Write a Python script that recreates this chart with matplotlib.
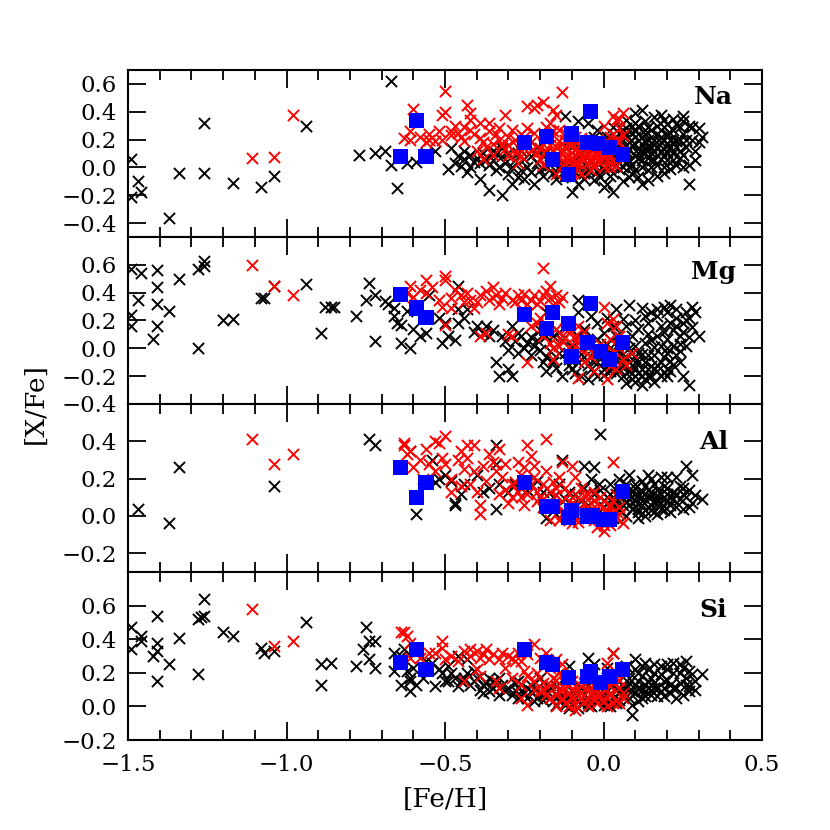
import matplotlib.pyplot as plt
import numpy as np
from matplotlib.ticker import MultipleLocator

plt.rcParams['font.family'] = ['DejaVu Serif']
plt.rcParams['axes.unicode_minus'] = True

# ---- [Na/Fe] vs [Fe/H] ----
na_black = [
    (-1.49, 0.06), (-1.47, -0.10), (-1.46, -0.18), (-1.49, -0.21), (-1.37, -0.36), (-1.34, -0.04),
    (-1.26, 0.32), (-1.26, -0.04), (-1.17, -0.11), (-1.08, -0.14), (-1.04, -0.06), (-0.94, 0.30),
    (-0.77, 0.09), (-0.67, 0.62), (-0.72, 0.10),
    (-0.69, 0.12), (-0.67, 0.02), (-0.65, -0.15), (-0.62, 0.03), (-0.59, 0.04), (-0.49, -0.01),
    (-0.48, 0.14), (-0.45, 0.01), (-0.43, -0.03), (-0.39, -0.08), (-0.36, -0.16), (-0.32, -0.20),
    (-0.56, 0.10), (-0.53, 0.12), (-0.46, 0.08), (-0.44, 0.12), (-0.41, 0.04), (-0.38, 0.10),
    (-0.36, 0.02), (-0.33, 0.00),
    (-0.12, 0.37), (-0.08, 0.33), (0.10, 0.39), (0.12, 0.41), (0.22, 0.35), (0.25, 0.37),
    (0.28, 0.29), (0.31, 0.22), (0.27, 0.02), (0.27, -0.12), (0.25, 0.09), (0.24, 0.20),
    (0.21, 0.15), (0.19, 0.29), (0.17, 0.24), (0.14, 0.29), (0.12, 0.22), (0.10, 0.17),
    (0.13, 0.10), (0.16, 0.05), (0.18, 0.12), (0.20, 0.17), (0.22, 0.10), (0.19, 0.00),
    (0.14, -0.02), (0.12, -0.12), (0.10, -0.02), (0.08, 0.05), (0.06, 0.00), (0.03, -0.04),
    (0.03, -0.18), (0.01, -0.12), (-0.01, -0.07), (-0.03, -0.09), (-0.05, -0.02), (-0.07, 0.00),
    (-0.10, -0.18), (-0.11, 0.01), (-0.13, 0.03), (-0.16, -0.04), (-0.18, 0.00), (-0.21, 0.03),
    (-0.22, -0.12), (-0.24, 0.00), (-0.26, -0.02), (-0.28, 0.05), (-0.30, 0.10), (-0.32, 0.08),
    (-0.34, 0.10), (-0.37, 0.05), (-0.39, 0.03), (-0.34, -0.02), (-0.27, -0.07), (-0.15, 0.05),
    (-0.05, 0.32), (-0.02, 0.27), (0.01, 0.22), (0.03, 0.29), (0.07, 0.34), (0.16, 0.36),
    (0.19, 0.34), (0.03, 0.12), (0.05, 0.15), (0.07, 0.12), (0.10, 0.08), (0.12, 0.05),
    (0.14, 0.15), (0.16, 0.20), (0.18, 0.22), (0.20, 0.24), (0.22, 0.27), (0.24, 0.29),
    (-0.21, 0.15), (-0.23, 0.08), (-0.07, 0.10), (-0.09, 0.17), (-0.11, 0.20),
    (0.00, 0.05), (0.02, 0.08), (0.04, 0.02), (0.06, 0.20), (0.08, 0.18), (0.09, 0.25),
    (0.11, 0.13), (0.13, 0.18), (0.15, 0.10), (0.17, 0.15), (0.19, 0.08), (0.21, 0.20),
    (0.23, 0.15), (0.15, 0.27), (0.11, 0.30), (0.05, 0.25), (0.00, 0.16), (-0.03, 0.02),
    (-0.08, 0.07), (0.08, -0.07), (0.17, -0.06),
    (-0.44, 0.06), (-0.42, 0.09), (-0.40, 0.07), (-0.35, 0.05), (-0.31, 0.03), (-0.29, 0.00),
    (-0.27, 0.10), (-0.25, 0.06), (-0.23, -0.03), (-0.20, -0.02), (-0.19, 0.08), (-0.17, 0.02),
    (-0.14, -0.01), (-0.12, -0.06), (-0.09, -0.03), (-0.06, -0.08), (-0.04, 0.04), (-0.02, -0.03),
    (0.00, -0.02), (0.01, 0.01), (0.02, 0.11), (0.04, 0.07), (0.05, -0.01), (0.06, 0.10),
    (0.07, 0.04), (0.08, 0.13), (0.09, 0.02), (0.10, 0.22), (0.11, 0.07), (0.12, 0.17),
    (0.13, 0.24), (0.14, 0.07), (0.15, 0.15), (0.16, 0.11), (0.17, 0.02), (0.18, 0.18),
    (0.19, 0.13), (0.20, 0.05), (0.21, 0.25), (0.22, 0.05), (0.23, 0.19), (0.24, 0.12),
    (0.25, 0.24), (0.26, 0.15), (0.28, 0.20), (0.29, 0.12), (0.30, 0.18), (0.27, 0.30),
    (0.25, 0.33), (0.23, 0.31), (0.20, 0.31), (0.17, 0.30), (0.13, 0.33), (0.09, 0.30),
    (0.06, 0.27), (0.04, 0.18), (0.01, 0.17), (-0.01, 0.20), (-0.04, 0.13), (-0.03, 0.22),
    (0.07, 0.23), (0.10, 0.26), (0.14, 0.20), (0.18, 0.27), (0.11, -0.07), (0.14, -0.09),
    (0.06, -0.10), (0.09, -0.05), (0.00, -0.14), (-0.08, -0.12), (0.19, -0.04), (0.21, -0.01),
    (0.23, 0.02), (0.25, 0.00), (0.15, 0.00), (0.12, 0.00), (0.03, 0.03), (-0.10, 0.04),
    (-0.18, 0.11), (-0.26, 0.12), (-0.32, 0.14), (-0.35, 0.12), (-0.42, 0.00), (-0.47, 0.03),
    (0.05, 0.12), (0.07, 0.09), (0.09, 0.16), (0.11, 0.10), (0.13, 0.13), (0.15, 0.05),
    (0.16, 0.16), (0.18, 0.06), (0.19, 0.20), (0.20, 0.11), (0.22, 0.18), (0.24, 0.07),
    (0.26, 0.20), (0.13, 0.27), (0.10, 0.32), (0.07, 0.28), (0.04, 0.05), (0.08, 0.00),
    (0.02, -0.06), (-0.02, 0.10), (-0.06, -0.04), (-0.10, -0.07), (-0.15, -0.08), (-0.19, -0.06),
    (-0.25, -0.08), (-0.30, -0.05), (-0.29, -0.12), (0.18, 0.38), (0.29, 0.05), (0.30, 0.28),
]
na_red = [
    (-1.11, 0.065), (-1.04, 0.075), (-0.98, 0.38),
    (-0.50, 0.55), (-0.13, 0.54), (-0.60, 0.42), (-0.51, 0.38), (-0.50, 0.40), (-0.43, 0.45),
    (-0.42, 0.39), (-0.42, 0.34), (-0.39, 0.32), (-0.36, 0.32), (-0.31, 0.38), (-0.24, 0.44),
    (-0.22, 0.43), (-0.21, 0.45), (-0.19, 0.47), (-0.16, 0.41), (-0.15, 0.38), (-0.63, 0.21),
    (-0.61, 0.20), (-0.61, 0.26), (-0.56, 0.18), (-0.55, 0.20), (-0.52, 0.26), (-0.51, 0.20),
    (-0.48, 0.26), (-0.48, 0.23), (-0.45, 0.22), (-0.44, 0.29), (-0.41, 0.24), (-0.39, 0.21),
    (-0.40, 0.12), (-0.38, 0.06), (-0.37, 0.15), (-0.35, 0.17), (-0.33, 0.20), (-0.30, 0.22),
    (-0.29, 0.27), (-0.27, 0.15), (-0.26, 0.08), (-0.30, 0.08), (-0.34, 0.24), (-0.36, 0.26),
    (-0.20, 0.06), (-0.18, 0.29), (-0.17, 0.32), (-0.16, 0.12), (-0.13, 0.17), (-0.12, 0.14),
    (-0.11, 0.05), (-0.10, 0.10), (-0.09, 0.08), (-0.08, 0.03), (-0.07, 0.15), (-0.06, 0.05),
    (-0.05, 0.10), (-0.04, -0.02), (-0.03, 0.08), (-0.02, 0.05), (-0.01, 0.12), (0.00, 0.00),
    (0.01, 0.05), (0.02, 0.17), (0.03, 0.24), (0.04, 0.34), (0.05, 0.35), (0.06, 0.39),
    (0.04, 0.20), (0.05, 0.08), (0.02, 0.00), (-0.07, -0.05), (-0.15, -0.05), (-0.12, 0.25),
    (-0.09, 0.22), (-0.14, 0.08), (-0.11, 0.00), (-0.06, 0.18),
    (-0.33, 0.28), (-0.31, 0.13), (-0.28, 0.20), (-0.25, 0.22), (-0.23, 0.18), (-0.22, 0.25),
    (-0.21, 0.10), (-0.19, 0.17), (-0.18, 0.12), (-0.17, 0.22), (-0.15, 0.15), (-0.14, 0.27),
    (-0.13, 0.02), (-0.12, 0.07), (-0.10, 0.17), (-0.09, 0.13), (-0.08, 0.19), (-0.07, 0.07),
    (-0.06, 0.12), (-0.05, 0.03), (-0.04, 0.15), (-0.03, 0.01), (-0.02, 0.11), (-0.01, 0.03),
    (0.00, 0.08), (0.01, 0.13), (0.02, 0.22), (0.03, 0.06), (0.04, 0.12), (0.05, 0.28),
    (0.06, 0.23), (0.03, 0.37), (0.00, 0.30), (-0.02, 0.20), (-0.08, -0.02), (-0.10, -0.03),
    (-0.13, 0.11), (-0.17, 0.07), (-0.24, 0.28), (-0.26, 0.24), (-0.28, 0.10), (-0.32, 0.16),
    (-0.44, 0.19), (-0.46, 0.25), (-0.53, 0.19), (-0.58, 0.22),
    (-0.20, 0.14), (-0.19, 0.02), (-0.17, 0.16), (-0.16, 0.26), (-0.15, 0.09), (-0.14, 0.19),
    (-0.13, 0.13), (-0.12, 0.20), (-0.11, 0.16), (-0.10, 0.07), (-0.09, 0.03), (-0.08, 0.11),
    (-0.07, 0.21), (-0.06, 0.09), (-0.05, 0.16), (-0.04, 0.06), (-0.03, 0.14), (-0.02, 0.08),
    (-0.01, 0.18), (0.00, 0.12), (0.01, 0.09), (0.02, 0.03), (0.03, 0.15), (0.04, 0.01),
    (0.05, 0.18), (-0.23, 0.12), (-0.25, 0.14), (-0.27, 0.03), (-0.30, 0.16), (-0.35, 0.09),
    (-0.38, 0.18), (-0.42, 0.27), (-0.47, 0.30), (-0.55, 0.24),
]
na_blue = [
    (-0.64, 0.08), (-0.59, 0.34), (-0.56, 0.08), (-0.25, 0.18), (-0.18, 0.22), (-0.16, 0.06),
    (-0.11, -0.05), (-0.10, 0.24), (-0.04, 0.40), (-0.05, 0.18), (-0.015, 0.17), (0.02, 0.14),
    (0.06, 0.09),
]

# ---- [Mg/Fe] vs [Fe/H] ----
mg_black = [
    (-1.49, 0.57), (-1.46, 0.54), (-1.49, 0.24), (-1.49, 0.16), (-1.47, 0.35), (-1.41, 0.56),
    (-1.41, 0.44), (-1.41, 0.32), (-1.41, 0.16), (-1.42, 0.07), (-1.37, 0.27), (-1.34, 0.50),
    (-1.28, 0.57), (-1.26, 0.63), (-1.26, 0.59), (-1.28, 0.00), (-1.20, 0.20), (-1.17, 0.21),
    (-1.08, 0.36), (-1.07, 0.36), (-1.04, 0.45), (-0.94, 0.46),
    (-0.88, 0.30), (-0.86, 0.30), (-0.89, 0.11), (-0.78, 0.23), (-0.85, 0.30), (-0.74, 0.47),
    (-0.75, 0.35), (-0.72, 0.38), (-0.72, 0.05), (-0.69, 0.34),
    (-0.68, 0.32), (-0.66, 0.29), (-0.66, 0.23), (-0.65, 0.18), (-0.64, 0.17), (-0.64, 0.04),
    (-0.61, 0.00), (-0.58, 0.09), (-0.56, 0.11), (-0.55, 0.38), (-0.46, 0.45), (-0.50, 0.18),
    (-0.49, 0.09), (-0.51, 0.04), (-0.47, 0.06), (-0.46, 0.18), (-0.46, 0.28), (-0.43, 0.28),
    (-0.40, 0.16), (-0.38, 0.11), (-0.36, 0.09), (-0.37, 0.16), (-0.34, -0.10), (-0.33, -0.20),
    (-0.30, -0.15), (-0.29, -0.20), (-0.32, 0.09), (-0.30, -0.01), (-0.29, 0.16), (-0.27, 0.11),
    (-0.26, 0.09), (-0.24, 0.04), (-0.22, 0.02), (-0.20, -0.01), (-0.18, -0.06), (-0.18, -0.16),
    (-0.16, -0.10), (-0.14, -0.03), (-0.13, -0.20), (-0.10, -0.15), (-0.08, -0.10), (-0.06, -0.06),
    (-0.04, -0.15), (-0.02, -0.20), (0.00, -0.15), (0.02, -0.10), (0.04, -0.18), (0.06, -0.20),
    (0.09, -0.22), (0.11, -0.18), (0.12, -0.26), (0.14, -0.20), (0.15, -0.13), (0.16, -0.15),
    (0.18, -0.10), (0.20, -0.03), (0.22, 0.02), (0.24, 0.09), (0.25, 0.18), (0.28, 0.30),
    (0.29, 0.26), (0.30, 0.09), (0.26, 0.02), (0.25, -0.20), (0.27, -0.26), (0.20, -0.15),
    (0.18, 0.02), (0.17, 0.09), (0.14, 0.18), (0.13, 0.23), (0.11, 0.14), (0.09, 0.09),
    (0.06, 0.21), (0.04, 0.28), (0.08, 0.31), (0.19, 0.30), (0.20, 0.26), (0.21, 0.18),
    (0.17, 0.23), (0.15, 0.26), (0.13, 0.04), (0.11, -0.03), (0.09, -0.08), (0.06, 0.02),
    (0.04, 0.09), (0.02, 0.00), (0.00, 0.11), (-0.02, 0.18), (-0.04, 0.23), (-0.06, 0.14),
    (-0.08, 0.09), (-0.08, 0.35), (-0.13, 0.06), (-0.16, 0.09), (-0.18, 0.09), (-0.08, 0.26),
    (-0.18, 0.26), (0.03, -0.05), (0.07, -0.12), (0.10, -0.14), (0.13, -0.10), (0.16, -0.05),
    (0.19, -0.17), (0.22, -0.12), (0.05, -0.15), (0.01, -0.05), (-0.03, -0.10), (-0.07, -0.20),
    (-0.11, -0.08), (0.10, 0.02), (0.14, 0.10), (0.18, 0.16), (0.23, 0.22), (0.26, 0.26),
    (-0.28, 0.05), (-0.25, 0.00), (-0.23, -0.05), (-0.21, 0.06), (-0.19, -0.10), (-0.17, -0.02),
    (-0.15, -0.14), (-0.12, -0.03), (-0.11, -0.12), (-0.09, -0.18), (-0.07, -0.04), (-0.05, -0.12),
    (-0.03, -0.02), (-0.01, -0.08), (0.00, -0.19), (0.01, 0.03), (0.03, -0.13), (0.05, -0.03),
    (0.06, -0.10), (0.08, -0.16), (0.08, 0.00), (0.10, -0.06), (0.12, -0.15), (0.13, -0.22),
    (0.14, -0.05), (0.15, -0.20), (0.16, 0.01), (0.17, -0.12), (0.18, -0.20), (0.19, -0.06),
    (0.20, 0.07), (0.21, -0.09), (0.22, 0.13), (0.23, -0.05), (0.24, 0.03), (0.25, 0.12),
    (0.26, 0.20), (0.27, 0.08), (0.28, 0.15), (0.23, 0.28), (0.21, 0.31), (0.17, 0.28),
    (0.12, 0.29), (0.10, 0.20), (0.07, 0.16), (0.03, 0.16), (0.01, 0.22), (-0.02, 0.07),
    (-0.05, 0.02), (-0.10, 0.01), (-0.14, 0.12), (-0.20, 0.13), (-0.23, 0.08), (-0.27, -0.03),
    (-0.31, 0.05), (-0.35, 0.13), (-0.41, 0.12), (-0.44, 0.22), (-0.52, 0.22), (-0.60, 0.14),
    (-0.62, 0.27), (-0.05, -0.22), (0.07, -0.25), (0.10, -0.24), (0.16, -0.24), (0.20, -0.20),
    (0.02, -0.16), (0.04, -0.08), (0.07, -0.06), (0.09, -0.12), (0.11, -0.10), (0.12, -0.04),
    (0.14, -0.15), (0.17, -0.16), (0.21, -0.16), (0.24, -0.10), (0.12, -0.20), (0.09, -0.18),
    (0.06, -0.14), (-0.01, -0.12), (0.15, 0.06), (0.19, 0.12), (0.23, 0.16), (0.27, 0.22),
    (0.24, -0.02), (0.20, 0.00),
]
mg_red = [
    (-1.11, 0.60), (-1.04, 0.45), (-0.98, 0.38),
    (-0.19, 0.58), (-0.17, 0.45), (-0.50, 0.52), (-0.50, 0.49), (-0.56, 0.49), (-0.56, 0.40),
    (-0.61, 0.45), (-0.62, 0.40), (-0.52, 0.35), (-0.51, 0.30), (-0.48, 0.36), (-0.48, 0.29),
    (-0.43, 0.40), (-0.42, 0.35), (-0.41, 0.29), (-0.40, 0.33), (-0.39, 0.38), (-0.35, 0.44),
    (-0.34, 0.38), (-0.32, 0.36), (-0.29, 0.35), (-0.27, 0.38), (-0.25, 0.39), (-0.23, 0.35),
    (-0.21, 0.32), (-0.19, 0.38), (-0.17, 0.36), (-0.15, 0.38), (-0.14, 0.33), (-0.50, 0.17),
    (-0.39, 0.09), (-0.37, 0.11), (-0.30, 0.10), (-0.29, 0.09), (-0.24, -0.10), (-0.23, 0.16),
    (-0.21, 0.18), (-0.19, 0.09), (-0.17, 0.04), (-0.16, -0.08), (-0.14, 0.02), (-0.13, 0.09),
    (-0.12, 0.14), (-0.09, 0.09), (-0.08, 0.04), (-0.07, -0.01), (-0.06, -0.10), (-0.04, -0.06),
    (-0.02, -0.01), (0.00, -0.03), (0.02, -0.13), (0.04, -0.15), (0.01, -0.22), (-0.08, -0.21),
    (0.00, 0.30), (0.03, 0.21), (0.04, 0.16), (0.05, 0.09), (0.06, -0.08), (0.09, -0.03),
    (-0.10, -0.02),
    (-0.60, 0.37), (-0.58, 0.42), (-0.54, 0.44), (-0.47, 0.42), (-0.45, 0.38), (-0.44, 0.33),
    (-0.37, 0.41), (-0.36, 0.35), (-0.33, 0.32), (-0.31, 0.40), (-0.28, 0.33), (-0.26, 0.35),
    (-0.24, 0.32), (-0.22, 0.38), (-0.20, 0.34), (-0.18, 0.41), (-0.16, 0.31), (-0.13, 0.37),
    (-0.20, 0.22), (-0.18, 0.12), (-0.15, 0.14), (-0.13, 0.05), (-0.11, 0.11), (-0.10, 0.03),
    (-0.07, 0.07), (-0.06, 0.12), (-0.05, 0.00), (-0.03, -0.03), (-0.01, 0.03), (0.01, -0.06),
    (0.02, 0.07), (0.03, -0.02), (0.05, 0.00), (0.07, -0.12), (-0.03, -0.16), (-0.11, -0.06),
    (-0.16, 0.00), (-0.08, 0.16), (0.01, 0.18),
]
mg_blue = [
    (-0.64, 0.39), (-0.59, 0.29), (-0.56, 0.22), (-0.25, 0.24), (-0.16, 0.26), (-0.18, 0.14),
    (-0.11, 0.18), (-0.04, 0.32), (-0.05, 0.04), (-0.10, -0.06), (-0.01, -0.02), (0.02, -0.08),
    (0.06, 0.04),
]

# ---- [Al/Fe] vs [Fe/H] ----
al_black = [
    (-1.47, 0.04), (-1.37, -0.04), (-1.34, 0.26), (-1.04, 0.16), (-0.74, 0.41), (-0.72, 0.38),
    (-0.59, 0.01), (-0.53, 0.18), (-0.47, 0.06),
    (-0.01, 0.44), (-0.61, 0.35), (-0.54, 0.30), (-0.52, 0.20), (-0.47, 0.07), (-0.48, 0.19),
    (-0.40, 0.22), (-0.34, 0.38), (-0.34, 0.28), (-0.34, 0.04), (-0.36, 0.15), (-0.38, 0.13),
    (-0.33, 0.17), (-0.26, 0.15), (-0.19, 0.13), (-0.18, -0.01), (-0.13, 0.30), (-0.11, 0.13),
    (-0.09, 0.12), (-0.06, 0.27), (-0.03, 0.26), (-0.04, 0.20), (-0.015, 0.17), (0.02, 0.17),
    (0.05, 0.20), (0.08, 0.22), (0.10, 0.17), (0.12, 0.13), (0.14, 0.22), (0.16, 0.17),
    (0.18, 0.21), (0.20, 0.21), (0.23, 0.21), (0.26, 0.27), (0.28, 0.22), (0.25, 0.15),
    (0.28, 0.07), (0.31, 0.09), (0.25, 0.04), (0.23, 0.12), (0.21, 0.06), (0.19, 0.03),
    (0.17, 0.01), (0.15, 0.06), (0.13, 0.03), (0.11, -0.01), (0.09, 0.04), (0.09, 0.10),
    (0.10, 0.08), (0.12, 0.06), (0.14, 0.10), (0.16, 0.08), (0.18, 0.12), (0.20, 0.08),
    (0.22, 0.13), (0.09, 0.13), (0.05, 0.03), (0.01, 0.10), (-0.15, 0.01), (-0.10, 0.06),
    (-0.07, 0.08), (-0.05, 0.06), (-0.02, 0.01), (0.07, 0.00), (0.11, 0.02), (0.15, 0.03),
    (0.19, 0.10), (0.24, 0.09), (0.17, 0.14), (0.13, 0.16), (0.07, 0.08), (0.03, 0.05),
    (0.00, 0.05), (0.02, 0.12), (0.04, 0.08), (0.06, 0.14), (0.08, 0.06), (0.10, 0.12),
    (0.11, 0.04), (0.12, 0.10), (0.13, 0.00), (0.14, 0.14), (0.15, 0.10), (0.16, 0.02),
    (0.17, 0.08), (0.18, 0.04), (0.19, 0.16), (0.20, 0.12), (0.21, 0.02), (0.22, 0.09),
    (0.23, 0.05), (0.24, 0.16), (0.26, 0.10), (0.27, 0.14), (0.29, 0.11), (0.27, 0.05),
    (0.12, 0.19), (0.15, 0.20), (0.10, 0.15), (0.07, 0.17), (0.04, 0.12), (-0.03, 0.12),
    (-0.06, 0.15), (-0.08, 0.04), (-0.12, 0.09), (-0.14, 0.17), (-0.16, 0.10), (-0.21, 0.19),
    (-0.24, 0.14), (-0.28, 0.17), (-0.30, 0.13), (-0.44, 0.17), (-0.45, 0.12), (-0.50, 0.22),
    (0.03, -0.01), (0.06, 0.06), (0.08, 0.12), (-0.01, 0.14),
    (0.01, 0.07), (0.05, 0.10), (0.08, 0.09), (0.12, 0.08), (0.14, 0.05), (0.17, 0.11),
    (0.20, 0.15), (0.21, 0.10), (0.25, 0.12), (0.18, 0.07), (0.15, 0.13), (0.11, 0.11),
]
al_red = [
    (-1.11, 0.41), (-1.04, 0.28), (-0.98, 0.33), (-0.63, 0.39), (-0.57, 0.20),
    (-0.63, 0.38), (-0.61, 0.35), (-0.60, 0.26), (-0.56, 0.36), (-0.53, 0.40), (-0.52, 0.39),
    (-0.50, 0.43), (-0.51, 0.31), (-0.50, 0.28), (-0.48, 0.20), (-0.48, 0.13), (-0.45, 0.16),
    (-0.43, 0.38), (-0.41, 0.38), (-0.43, 0.31), (-0.41, 0.24), (-0.42, 0.17), (-0.39, 0.06),
    (-0.39, 0.01), (-0.40, 0.13), (-0.36, 0.33), (-0.34, 0.24), (-0.33, 0.36), (-0.31, 0.28),
    (-0.30, 0.07), (-0.29, 0.17), (-0.27, 0.29), (-0.26, 0.22), (-0.24, 0.38), (-0.23, 0.32),
    (-0.22, 0.27), (-0.18, 0.41), (-0.23, 0.17), (-0.21, 0.13), (-0.19, 0.17), (-0.17, 0.13),
    (-0.17, -0.02), (-0.14, 0.21), (-0.13, 0.29), (-0.10, 0.27), (-0.09, 0.21), (-0.07, 0.15),
    (-0.05, 0.12), (-0.03, 0.08), (-0.01, 0.06), (-0.02, -0.06), (0.00, -0.08), (0.01, 0.03),
    (0.03, 0.29), (0.03, 0.08), (0.05, 0.01), (0.06, -0.04), (-0.09, 0.01), (-0.07, 0.04),
    (-0.05, -0.01), (-0.11, 0.08), (-0.15, 0.06), (-0.24, 0.12), (-0.27, 0.13), (-0.37, 0.19),
    (-0.45, 0.35),
    (-0.62, 0.33), (-0.58, 0.30), (-0.55, 0.28), (-0.53, 0.24), (-0.46, 0.30), (-0.44, 0.25),
    (-0.38, 0.27), (-0.35, 0.29), (-0.32, 0.21), (-0.31, 0.14), (-0.28, 0.18), (-0.26, 0.10),
    (-0.25, 0.26), (-0.22, 0.21), (-0.20, 0.10), (-0.18, 0.24), (-0.16, 0.18), (-0.15, 0.11),
    (-0.13, 0.08), (-0.12, 0.15), (-0.10, 0.04), (-0.08, 0.10), (-0.06, 0.07), (-0.04, 0.03),
    (-0.03, 0.13), (-0.02, 0.02), (0.00, 0.08), (0.01, -0.03), (0.02, 0.06), (0.04, 0.11),
    (0.05, 0.05), (-0.08, -0.03), (-0.12, 0.02), (-0.19, 0.05), (-0.14, -0.02), (0.00, -0.05),
    (0.04, -0.01),
    (-0.19, 0.09), (-0.17, 0.06), (-0.15, 0.15), (-0.13, 0.01), (-0.11, 0.12), (-0.09, 0.06),
    (-0.07, 0.00), (-0.06, 0.11), (-0.04, 0.07), (-0.03, -0.02), (-0.01, 0.10), (0.01, 0.01),
    (0.02, -0.05), (0.03, 0.02), (-0.10, -0.04), (-0.21, 0.08), (-0.25, 0.06), (-0.29, 0.10),
    (-0.33, 0.12),
]
al_blue = [
    (-0.64, 0.26), (-0.56, 0.18), (-0.59, 0.10), (-0.25, 0.18), (-0.18, 0.05), (-0.16, 0.05),
    (-0.11, -0.01), (-0.10, 0.03), (-0.05, 0.00), (-0.035, 0.00), (0.00, -0.02), (0.02, -0.02),
    (0.06, 0.13),
]

# ---- [Si/Fe] vs [Fe/H] ----
si_black = [
    (-1.49, 0.47), (-1.46, 0.42), (-1.49, 0.34), (-1.46, 0.39), (-1.42, 0.30), (-1.41, 0.33),
    (-1.41, 0.38), (-1.41, 0.54), (-1.41, 0.15), (-1.37, 0.25), (-1.34, 0.41), (-1.28, 0.52),
    (-1.27, 0.53), (-1.26, 0.64), (-1.26, 0.54), (-1.28, 0.19), (-1.20, 0.44), (-1.17, 0.42),
    (-1.08, 0.35), (-1.07, 0.32), (-1.04, 0.33), (-0.94, 0.50), (-0.89, 0.25), (-0.86, 0.26),
    (-0.89, 0.13), (-0.78, 0.24), (-0.75, 0.47), (-0.74, 0.39), (-0.72, 0.39), (-0.76, 0.34),
    (-0.74, 0.28), (-0.72, 0.23), (-0.66, 0.21), (-0.64, 0.13), (-0.61, 0.09), (-0.61, 0.15),
    (-0.66, 0.32), (-0.64, 0.30),
    (-0.63, 0.34), (-0.61, 0.17), (-0.59, 0.13), (-0.57, 0.17), (-0.54, 0.26), (-0.51, 0.20),
    (-0.50, 0.15), (-0.48, 0.20), (-0.47, 0.17), (-0.45, 0.15), (-0.46, 0.30), (-0.43, 0.20),
    (-0.40, 0.17), (-0.38, 0.13), (-0.38, 0.08), (-0.36, 0.17), (-0.34, 0.13), (-0.31, 0.09),
    (-0.29, 0.07), (-0.26, 0.09), (-0.24, 0.11), (-0.21, 0.11), (-0.19, 0.07), (-0.17, 0.05),
    (-0.14, 0.03), (-0.11, 0.05), (-0.09, 0.05), (-0.07, 0.02), (-0.05, 0.02), (-0.02, 0.03),
    (0.00, 0.01), (0.02, 0.00), (0.04, 0.02), (0.09, -0.05), (-0.05, 0.29), (0.03, 0.32),
    (0.01, 0.23), (-0.03, 0.25), (-0.11, 0.24), (0.10, 0.22), (0.12, 0.24), (0.14, 0.22),
    (0.16, 0.20), (0.18, 0.24), (0.20, 0.22), (0.22, 0.26), (0.26, 0.27), (0.24, 0.20),
    (0.26, 0.17), (0.29, 0.15), (0.31, 0.19), (0.25, 0.07), (0.27, 0.09), (0.23, 0.11),
    (0.21, 0.13), (0.19, 0.15), (0.17, 0.11), (0.15, 0.07), (0.13, 0.13), (0.11, 0.15),
    (0.09, 0.09), (0.12, 0.05), (0.14, 0.11), (0.10, 0.13), (0.12, 0.18), (0.15, 0.17),
    (0.18, 0.09), (0.09, 0.01), (0.06, 0.07), (0.05, 0.15), (-0.01, 0.11), (-0.05, 0.13),
    (-0.07, 0.11), (-0.17, 0.11), (-0.20, 0.17), (-0.27, 0.15), (-0.33, 0.17), (-0.36, 0.09),
    (-0.24, 0.05), (-0.21, 0.05), (-0.15, 0.01), (-0.11, -0.01), (-0.08, -0.01), (0.03, 0.05),
    (0.01, 0.09), (0.10, 0.28), (0.13, 0.26), (-0.43, 0.28), (-0.49, 0.24),
    (-0.52, 0.22), (-0.49, 0.15), (-0.46, 0.12), (-0.44, 0.17), (-0.42, 0.13), (-0.41, 0.21),
    (-0.39, 0.10), (-0.37, 0.14), (-0.35, 0.11), (-0.33, 0.07), (-0.32, 0.13), (-0.30, 0.11),
    (-0.28, 0.14), (-0.27, 0.05), (-0.25, 0.08), (-0.23, 0.13), (-0.22, 0.03), (-0.20, 0.08),
    (-0.18, 0.10), (-0.16, 0.03), (-0.15, 0.12), (-0.13, 0.07), (-0.12, 0.01), (-0.10, 0.09),
    (-0.08, 0.03), (-0.06, 0.07), (-0.04, 0.00), (-0.03, 0.08), (-0.01, 0.05), (0.01, 0.02),
    (0.02, 0.07), (0.04, 0.10), (0.05, 0.04), (0.07, 0.11), (0.08, 0.05), (0.10, 0.08),
    (0.11, 0.03), (0.12, 0.10), (0.13, 0.06), (0.14, 0.15), (0.15, 0.10), (0.16, 0.14),
    (0.17, 0.06), (0.18, 0.19), (0.19, 0.11), (0.20, 0.16), (0.21, 0.08), (0.22, 0.20),
    (0.24, 0.14), (0.25, 0.23), (0.27, 0.12), (0.28, 0.19), (0.29, 0.10), (0.23, 0.05),
    (0.06, 0.12), (0.03, 0.13), (0.08, 0.17), (0.11, 0.20), (0.16, 0.25), (0.07, 0.24),
    (-0.56, 0.27), (-0.60, 0.23), (-0.62, 0.21), (-0.53, 0.12),
    (-0.05, 0.05), (-0.10, 0.02), (-0.13, 0.04), (0.00, 0.06), (0.05, 0.08), (0.08, 0.14),
    (0.11, 0.11), (0.13, 0.09), (0.16, 0.11), (0.19, 0.06), (0.22, 0.11), (0.26, 0.13),
    (0.20, 0.25), (0.24, 0.25), (0.27, 0.21), (-0.19, 0.04), (-0.23, 0.09), (-0.28, 0.10),
    (-0.35, 0.15), (-0.41, 0.15),
]
si_red = [
    (-1.11, 0.58), (-1.04, 0.36), (-0.98, 0.39), (-0.64, 0.44),
    (-0.63, 0.44), (-0.61, 0.29), (-0.53, 0.32), (-0.51, 0.39), (-0.50, 0.28), (-0.48, 0.30),
    (-0.44, 0.15), (-0.42, 0.34), (-0.40, 0.33), (-0.39, 0.29), (-0.37, 0.34), (-0.39, 0.18),
    (-0.35, 0.31), (-0.33, 0.28), (-0.30, 0.30), (-0.28, 0.27), (-0.27, 0.32), (-0.22, 0.37),
    (-0.34, 0.15), (-0.24, 0.01), (-0.26, 0.13), (-0.21, 0.20), (-0.18, 0.32), (-0.15, 0.28),
    (-0.14, 0.20), (-0.17, 0.13), (-0.20, 0.09), (-0.11, 0.13), (-0.09, 0.01), (-0.07, 0.05),
    (-0.05, 0.09), (-0.03, 0.05), (0.01, 0.26), (0.03, 0.32), (0.03, 0.15), (0.05, 0.11),
    (0.06, 0.05), (0.04, 0.03), (-0.01, 0.07), (-0.13, 0.05), (-0.15, 0.07), (-0.22, 0.15),
    (-0.29, 0.17), (-0.51, 0.35), (-0.58, 0.29), (-0.62, 0.42), (-0.59, 0.35), (-0.40, 0.22),
    (-0.42, 0.30), (0.00, 0.03), (-0.05, 0.00), (-0.09, 0.09), (-0.18, 0.07),
    (-0.61, 0.38), (-0.55, 0.32), (-0.46, 0.27), (-0.44, 0.33), (-0.38, 0.31), (-0.36, 0.28),
    (-0.32, 0.32), (-0.31, 0.23), (-0.29, 0.29), (-0.26, 0.27), (-0.25, 0.21), (-0.24, 0.31),
    (-0.20, 0.29), (-0.19, 0.14), (-0.17, 0.23), (-0.16, 0.17), (-0.14, 0.10), (-0.13, 0.25),
    (-0.12, 0.02), (-0.11, 0.08), (-0.10, 0.15), (-0.08, 0.06), (-0.07, 0.12), (-0.06, 0.03),
    (-0.04, 0.08), (-0.03, 0.12), (-0.02, 0.02), (-0.01, 0.15), (0.01, 0.05), (0.02, 0.12),
    (0.04, 0.20), (0.05, 0.16), (0.06, 0.08), (-0.09, -0.02), (-0.15, 0.00), (-0.26, 0.05),
    (-0.33, 0.11),
    (-0.19, 0.10), (-0.17, 0.05), (-0.15, 0.16), (-0.13, 0.10), (-0.12, 0.14), (-0.10, 0.05),
    (-0.09, 0.12), (-0.07, 0.08), (-0.06, 0.14), (-0.05, 0.04), (-0.03, 0.10), (-0.02, 0.06),
    (0.00, 0.10), (0.01, 0.00), (0.02, 0.08), (0.03, 0.02), (0.05, 0.02), (-0.11, 0.00),
    (-0.22, 0.10), (-0.24, 0.18),
]
si_blue = [
    (-0.64, 0.26), (-0.59, 0.34), (-0.56, 0.22), (-0.25, 0.34), (-0.18, 0.26), (-0.16, 0.25),
    (-0.11, 0.17), (-0.05, 0.18), (-0.04, 0.21), (-0.01, 0.14), (0.02, 0.18), (0.06, 0.22),
]

elements = ["Na", "Mg", "Al", "Si"]
black_sets = [na_black, mg_black, al_black, si_black]
red_sets = [na_red, mg_red, al_red, si_red]
blue_sets = [na_blue, mg_blue, al_blue, si_blue]
y_limits = [(-0.5, 0.7), (-0.4, 0.8), (-0.3, 0.6), (-0.2, 0.8)]
y_ticks = [
    [-0.4, -0.2, 0.0, 0.2, 0.4, 0.6],
    [-0.4, -0.2, 0.0, 0.2, 0.4, 0.6],
    [-0.2, 0.0, 0.2, 0.4],
    [-0.2, 0.0, 0.2, 0.4, 0.6],
]
label_y = [0.84, 0.79, 0.775, 0.775]

fig = plt.figure(figsize=(8.3, 8.3), dpi=100)
W = 830.0
edges = [70, 237, 404, 572, 740]  # panel borders in pixels from the top
left, width = 128 / W, 634 / W

for i, el in enumerate(elements):
    ax = fig.add_axes([left, 1 - edges[i + 1] / W, width, (edges[i + 1] - edges[i]) / W])

    bx, by = np.array(black_sets[i]).T
    rx, ry = np.array(red_sets[i]).T
    sx, sy = np.array(blue_sets[i]).T
    ax.scatter(bx, by, marker='x', s=64, c='black', linewidths=1.4, zorder=2)
    ax.scatter(rx, ry, marker='x', s=64, c='#ff0000', linewidths=1.4, zorder=3)
    ax.scatter(sx, sy, marker='s', s=118, c='#0000ff', edgecolors='none', zorder=4)

    ax.set_xlim(-1.5, 0.5)
    ax.set_ylim(*y_limits[i])
    ax.xaxis.set_major_locator(MultipleLocator(0.5))
    ax.xaxis.set_minor_locator(MultipleLocator(0.1))
    ax.set_yticks(y_ticks[i])
    ax.tick_params(axis='both', which='both', direction='in', top=True, right=True,
                   labelsize=16.5, width=1.3)
    ax.tick_params(axis='x', which='major', length=13, pad=10)
    ax.tick_params(axis='x', which='minor', length=7)
    ax.tick_params(axis='y', which='major', length=13, pad=8)
    for sp in ax.spines.values():
        sp.set_linewidth(1.5)
    if i < 3:
        ax.tick_params(axis='x', labelbottom=False)
    else:
        ax.set_xticks([-1.5, -1.0, -0.5, 0.0, 0.5])
        ax.set_xticklabels(['\u22121.5', '\u22121.0', '\u22120.5', '0.0', '0.5'])
        ax.set_xlabel('[Fe/H]', fontsize=19, labelpad=8)

    ax.text(0.923, label_y[i], el, transform=ax.transAxes, ha='center', va='center',
            fontsize=18, fontweight='bold')

fig.text(35 / W, 1 - 404 / W, '[X/Fe]', rotation=90, ha='center', va='center', fontsize=19)

fig.savefig('out.png', dpi=100)
